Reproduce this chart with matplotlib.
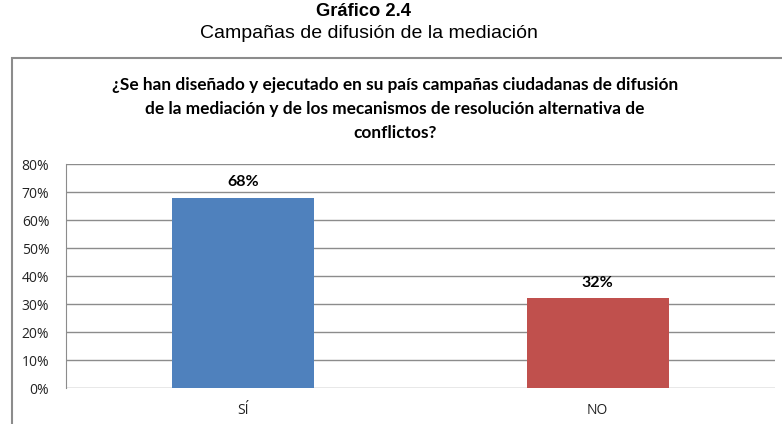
import matplotlib
matplotlib.use('Agg')

import matplotlib.pyplot as plt
import matplotlib.patches as patches
from matplotlib.ticker import FuncFormatter

# Data
categories = ['SÍ', 'NO']
values = [0.68, 0.32]
bar_colors = ['#4F81BD', '#C0504D']
y_ticks = [0, 0.1, 0.2, 0.3, 0.4, 0.5, 0.6, 0.7, 0.8]

title = 'Gráfico 2.4'
subtitle = 'Campañas de difusión de la mediación'
question = ('¿Se han diseñado y ejecutado en su país campañas ciudadanas de difusión\n'
            'de la mediación y de los mecanismos de resolución alternativa de\n'
            'conflictos?')

W, H = 782, 424
fig = plt.figure(figsize=(W / 100, H / 100), dpi=100)

# outer chart frame (runs off the right and bottom edge)
frame = patches.Rectangle((12 / W, -0.2), 1.2, (1 - 58 / H) + 0.2,
                          transform=fig.transFigure, fill=False,
                          edgecolor='#8c8c8c', linewidth=1.5)
fig.patches.append(frame)

fig.text(363 / W, 1 - 11 / H, title, ha='center', va='center',
         fontsize=13.2, fontweight='bold', family='Liberation Sans')
fig.text(369 / W, 1 - 33 / H, subtitle, ha='center', va='center',
         fontsize=14, family='Liberation Sans')
fig.text(395 / W, 1 - 109 / H, question, ha='center', va='center',
         fontsize=12.4, fontweight='bold', family='Lato', linespacing=1.58)

ax = fig.add_axes([66 / W, 1 - 388 / H, 709 / W, 224 / H])
x = range(len(categories))
bars = ax.bar(x, values, width=0.4, color=bar_colors, zorder=3)

for b, v in zip(bars, values):
    ax.text(b.get_x() + b.get_width() / 2, v + 0.03, f'{v:.0%}',
            ha='center', va='bottom', fontsize=11.5, fontweight='bold',
            family='Lato')

ax.set_xlim(-0.5, len(categories) - 0.5)
ax.set_ylim(0, 0.8)
ax.set_yticks(y_ticks)
ax.yaxis.set_major_formatter(FuncFormatter(lambda v, p: f'{v:.0%}'))
ax.set_xticks(list(x))
ax.set_xticklabels(categories)
ax.tick_params(axis='both', length=0, labelsize=10, labelcolor='#222222')
ax.tick_params(axis='y', pad=12)
ax.tick_params(axis='x', pad=11)
for lab in ax.get_xticklabels() + ax.get_yticklabels():
    lab.set_family('Open Sans')

ax.grid(axis='y', color='#8c8c8c', linewidth=1)
ax.set_axisbelow(True)
for side in ['top', 'right', 'bottom']:
    ax.spines[side].set_visible(False)
ax.spines['left'].set_color('#8c8c8c')

fig.savefig('out.png', dpi=100)
